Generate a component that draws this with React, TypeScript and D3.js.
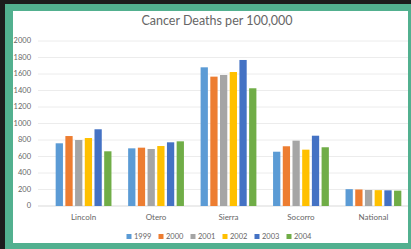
import React, { useEffect, useRef } from 'react';
import * as d3 from 'd3';

const categories = ['Lincoln', 'Otero', 'Sierra', 'Socorro', 'National'];
const years = ['1999', '2000', '2001', '2002', '2003', '2004'];
// values per category, one per year
const lincoln = [760, 848, 800, 824, 930, 663];
const otero = [699, 707, 691, 727, 772, 784];
const sierra = [1681, 1568, 1588, 1624, 1770, 1427];
const socorro = [658, 724, 792, 683, 852, 712];
const national = [204, 200, 194, 192, 190, 186];
const yTicks = [0, 200, 400, 600, 800, 1000, 1200, 1400, 1600, 1800, 2000];
const colors = ['#5B9BD5', '#ED7D31', '#A5A5A5', '#FFC000', '#4472C4', '#70AD47'];

const App = () => {
  const ref = useRef<SVGSVGElement>(null);

  useEffect(() => {
    const W = 411;
    const H = 249;
    const data = [lincoln, otero, sierra, socorro, national];
    const font = 'Lato, "Open Sans", sans-serif';
    const textColor = '#666666';

    const svg = d3.select(ref.current);
    svg.selectAll('*').remove();

    // frame: dark page, green border, white chart area
    svg.append('rect').attr('width', W).attr('height', H).attr('fill', '#1c1c1c');
    svg.append('rect').attr('x', 5).attr('y', 4).attr('width', W - 5).attr('height', H - 4).attr('fill', '#52b08f');
    svg.append('rect').attr('x', 13).attr('y', 11).attr('width', 395).attr('height', 232).attr('fill', '#ffffff');

    svg.append('clipPath').attr('id', 'clip')
      .append('rect').attr('x', 13).attr('y', 11).attr('width', 395).attr('height', 232);

    const g = svg.append('g').attr('clip-path', 'url(#clip)');

    const x0 = d3.scaleBand().domain(categories).range([39, 418]).padding(0.23);
    const x1 = d3.scaleBand().domain(years).range([0, x0.bandwidth()]).paddingInner(0.25);
    const y = d3.scaleLinear().domain([0, 2000]).range([206, 41]);

    // gridlines
    g.selectAll('line.grid')
      .data(yTicks)
      .enter()
      .append('line')
      .attr('x1', 38)
      .attr('x2', 418)
      .attr('y1', d => y(d))
      .attr('y2', d => y(d))
      .attr('stroke', d => (d === 0 ? '#d9d9d9' : '#ececec'))
      .attr('stroke-width', 1);

    // y tick labels
    g.selectAll('text.ytick')
      .data(yTicks)
      .enter()
      .append('text')
      .attr('x', 31)
      .attr('y', d => y(d))
      .attr('dy', '0.33em')
      .attr('text-anchor', 'end')
      .attr('font-family', font)
      .attr('font-size', '7.5px')
      .attr('fill', textColor)
      .text(d => d);

    // bars
    const groups = g.selectAll('g.cat')
      .data(data)
      .enter()
      .append('g')
      .attr('transform', (d, i) => `translate(${x0(categories[i])},0)`);

    groups.selectAll('rect')
      .data(d => d)
      .enter()
      .append('rect')
      .attr('x', (d, i) => x1(years[i]))
      .attr('y', d => y(d))
      .attr('width', x1.bandwidth())
      .attr('height', d => y(0) - y(d))
      .attr('fill', (d, i) => colors[i]);

    // category labels
    g.selectAll('text.cat')
      .data(categories)
      .enter()
      .append('text')
      .attr('x', d => x0(d) + x0.bandwidth() / 2)
      .attr('y', 220)
      .attr('text-anchor', 'middle')
      .attr('font-family', font)
      .attr('font-size', '8px')
      .attr('fill', textColor)
      .text(d => d);

    // title
    svg.append('text')
      .attr('x', 217)
      .attr('y', 25)
      .attr('text-anchor', 'middle')
      .attr('font-family', font)
      .attr('font-size', '12.5px')
      .attr('fill', textColor)
      .text('Cancer Deaths per 100,000');

    // legend
    const legend = svg.selectAll('g.leg')
      .data(years)
      .enter()
      .append('g')
      .attr('transform', (d, i) => `translate(${126.5 + i * 32},234)`);

    legend.append('rect')
      .attr('width', 5)
      .attr('height', 5)
      .attr('fill', (d, i) => colors[i]);

    legend.append('text')
      .attr('x', 7.5)
      .attr('y', 2.5)
      .attr('dy', '0.35em')
      .attr('font-family', font)
      .attr('font-size', '7.5px')
      .attr('fill', textColor)
      .text(d => d);
  }, []);

  return (
    <svg
      ref={ref}
      width={411}
      height={249}
      style={{ position: 'fixed', left: 0, top: 0, display: 'block' }}
    />
  );
};

export default App;
